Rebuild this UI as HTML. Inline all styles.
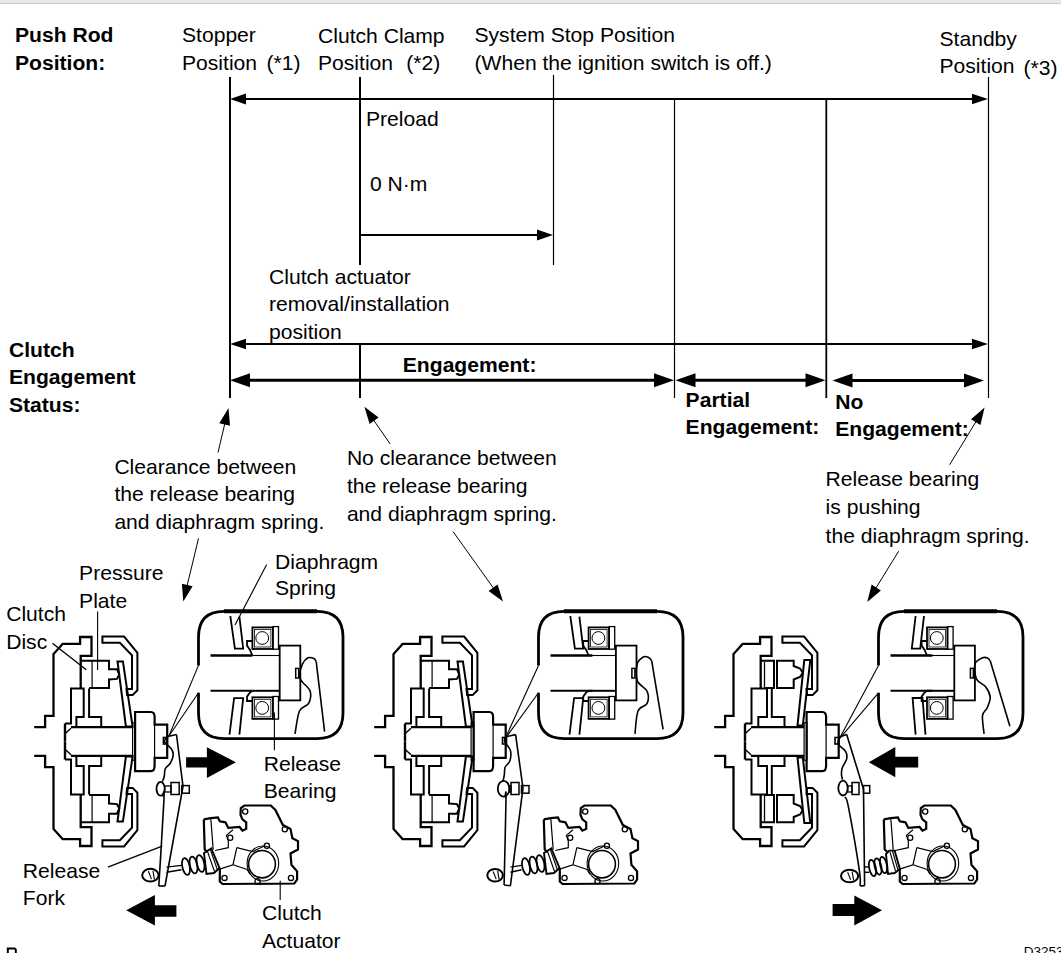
<!DOCTYPE html>
<html><head><meta charset="utf-8"><style>
html,body{margin:0;padding:0;background:#fff;width:1061px;height:953px;overflow:hidden}
svg{display:block;font-family:"Liberation Sans",sans-serif}
</style></head><body>
<svg width="1061" height="953" viewBox="0 0 1061 953">
<rect x="0" y="0" width="1061" height="953" fill="#fff"/>
<rect x="0" y="0" width="1061" height="3" fill="#e8e8e8"/>
<rect x="0" y="3" width="1061" height="1" fill="#cbcbcb"/>
<g fill="#000" stroke="none" transform="translate(-1,0)">
<text x="16" y="42" font-weight="bold" font-size="21.1">Push Rod</text>
<text x="16" y="69.5" font-weight="bold" font-size="21.1">Position:</text>
<text x="183" y="42" font-size="21.1">Stopper</text>
<text x="183" y="69.5" font-size="21.1">Position</text>
<text x="267.5" y="70.3" font-size="21.1">(*1)</text>
<text x="319" y="42.5" font-size="21.1">Clutch Clamp</text>
<text x="319" y="70" font-size="21.1">Position</text>
<text x="407.3" y="70" font-size="21.1">(*2)</text>
<text x="475.5" y="41.7" font-size="21.1">System Stop Position</text>
<text x="475.5" y="69.8" font-size="21.1">(When the ignition switch is off.)</text>
<text x="940.5" y="45.5" font-size="21.1">Standby</text>
<text x="940.5" y="73.4" font-size="21.1">Position</text>
<text x="1024.5" y="74.6" font-size="21.1">(*3)</text>
<text x="367" y="126" font-size="21.1">Preload</text>
<text x="371" y="191.3" font-size="21.1">0 N·m</text>
<text x="270" y="284" font-size="21.1">Clutch actuator</text>
<text x="270" y="311" font-size="21.1">removal/installation</text>
<text x="270" y="339" font-size="21.1">position</text>
<text x="10" y="356.6" font-weight="bold" font-size="21.1">Clutch</text>
<text x="10" y="383.8" font-weight="bold" font-size="21.1">Engagement</text>
<text x="10" y="412.2" font-weight="bold" font-size="21.1">Status:</text>
<text x="403.8" y="371.7" font-weight="bold" font-size="21.1">Engagement:</text>
<text x="686.6" y="406.7" font-weight="bold" font-size="21.1">Partial</text>
<text x="686.6" y="434.2" font-weight="bold" font-size="21.1">Engagement:</text>
<text x="836.2" y="408.5" font-weight="bold" font-size="21.1">No</text>
<text x="836.2" y="436.3" font-weight="bold" font-size="21.1">Engagement:</text>
<text x="115.4" y="473.5" font-size="21.1">Clearance between</text>
<text x="115.4" y="501.1" font-size="21.1">the release bearing</text>
<text x="115.4" y="529" font-size="21.1">and diaphragm spring.</text>
<text x="347.9" y="465.2" font-size="21.1">No clearance between</text>
<text x="347.9" y="492.8" font-size="21.1">the release bearing</text>
<text x="347.9" y="521" font-size="21.1">and diaphragm spring.</text>
<text x="826.6" y="486.1" font-size="21.1">Release bearing</text>
<text x="826.6" y="513.8" font-size="21.1">is pushing</text>
<text x="826.6" y="542.9" font-size="21.1">the diaphragm spring.</text>
<text x="80.1" y="580.2" font-size="21.1">Pressure</text>
<text x="80.1" y="607.9" font-size="21.1">Plate</text>
<text x="7.2" y="621.4" font-size="21.1">Clutch</text>
<text x="7.2" y="649" font-size="21.1">Disc</text>
<text x="276" y="568.5" font-size="21.1">Diaphragm</text>
<text x="276" y="595.1" font-size="21.1">Spring</text>
<text x="264.7" y="770.7" font-size="21.1">Release</text>
<text x="264.7" y="797.5" font-size="21.1">Bearing</text>
<text x="23.8" y="878" font-size="21.1">Release</text>
<text x="23.8" y="905.2" font-size="21.1">Fork</text>
<text x="263" y="920.4" font-size="21.1">Clutch</text>
<text x="263" y="947.9" font-size="21.1">Actuator</text>
<text x="1024.8" y="956.2" font-size="13.5">D3253</text>
</g>
<g stroke="#000" fill="none">
<line x1="230" y1="77" x2="230" y2="398" stroke-width="2"/>
<line x1="360" y1="77" x2="360" y2="265" stroke-width="2"/>
<line x1="360" y1="345" x2="360" y2="398" stroke-width="2"/>
<line x1="553.5" y1="75" x2="553.5" y2="265" stroke-width="1.2"/>
<line x1="674.5" y1="99" x2="674.5" y2="398" stroke-width="1.2"/>
<line x1="826.3" y1="99" x2="826.3" y2="398" stroke-width="1.8"/>
<line x1="988.5" y1="77" x2="988.5" y2="398" stroke-width="1.2"/>
<line x1="244" y1="99" x2="974" y2="99" stroke-width="2"/>
<path d="M230.0,99.0 L246.0,93.6 L246.0,104.4Z" fill="#000" stroke="none"/>
<path d="M988.0,99.0 L972.0,104.2 L972.0,93.8Z" fill="#000" stroke="none"/>
<line x1="360" y1="235" x2="540" y2="235" stroke-width="2"/>
<path d="M553.0,235.0 L537.0,240.6 L537.0,229.4Z" fill="#000" stroke="none"/>
<line x1="244" y1="344" x2="974" y2="344" stroke-width="2"/>
<path d="M230.0,344.0 L246.0,338.8 L246.0,349.2Z" fill="#000" stroke="none"/>
<path d="M988.0,344.0 L972.0,349.2 L972.0,338.8Z" fill="#000" stroke="none"/>
<line x1="246" y1="380.3" x2="658" y2="380.3" stroke-width="3"/>
<path d="M230.0,380.3 L250.0,373.3 L250.0,387.3Z" fill="#000" stroke="none"/>
<path d="M674.0,380.3 L654.0,387.3 L654.0,373.3Z" fill="#000" stroke="none"/>
<line x1="692" y1="380.3" x2="808" y2="380.3" stroke-width="3"/>
<path d="M675.5,380.3 L695.5,373.3 L695.5,387.3Z" fill="#000" stroke="none"/>
<path d="M825.5,380.3 L805.5,387.3 L805.5,373.3Z" fill="#000" stroke="none"/>
<line x1="850" y1="380.6" x2="968" y2="380.6" stroke-width="3"/>
<path d="M832.5,380.6 L852.5,373.6 L852.5,387.6Z" fill="#000" stroke="none"/>
<path d="M984.0,380.6 L964.0,387.6 L964.0,373.6Z" fill="#000" stroke="none"/>
<line x1="218" y1="452.5" x2="225.38341069008146" y2="421.1380841164158" stroke-width="1.0"/><path d="M228.5,407.9 L230.0,425.7 L219.3,423.2Z" fill="#000" stroke="none"/>
<line x1="198.5" y1="538.4" x2="186.48496604936287" y2="588.2782001503424" stroke-width="1.0"/><path d="M183.3,601.5 L181.9,583.7 L192.6,586.3Z" fill="#000" stroke="none"/>
<line x1="390.2" y1="444" x2="372.1506258423777" y2="417.975320982033" stroke-width="1.0"/><path d="M364.4,406.8 L378.6,417.6 L369.6,423.9Z" fill="#000" stroke="none"/>
<line x1="453" y1="531.5" x2="495.0951605654203" y2="590.4332247915884" stroke-width="1.0"/><path d="M503.0,601.5 L488.6,590.9 L497.6,584.5Z" fill="#000" stroke="none"/>
<line x1="949.6" y1="464.8" x2="977.5017182281125" y2="419.20062049577047" stroke-width="1.0"/><path d="M984.6,407.6 L980.4,425.0 L971.0,419.2Z" fill="#000" stroke="none"/>
<line x1="898.7" y1="551.2" x2="874.4505813825642" y2="590.431543495724" stroke-width="1.0"/><path d="M867.3,602.0 L871.6,584.6 L880.9,590.4Z" fill="#000" stroke="none"/>
</g>
<g stroke="#000" fill="none">
<g><path d="M34.2,727.1 L45.1,727.1 L45.1,715.9 L53.5,715.9 L53.5,654.1 L62.6,643.9 L80.1,643.9 L80.1,637 L91.5,637 L91.5,655.9 L80.7,655.9 L80.7,688" stroke-width="2.3" fill="none"/>
<line x1="65" y1="723.5" x2="65" y2="741.5" stroke-width="2.4"/>
<line x1="65" y1="733.7" x2="71" y2="728.3" stroke-width="1.5"/>
<path d="M102.4,636.6 L124.1,636.6 L137.4,652.9 L137.4,690.3 L132.6,695.1 L127.1,695.1 L126.5,689.1 L132,689.1 L132,655.3 L119.9,642.7 L102.4,642.7Z" stroke-width="2" fill="none"/><g transform="translate(0,1483.0) scale(1,-1)"><path d="M34.2,727.1 L45.1,727.1 L45.1,715.9 L53.5,715.9 L53.5,654.1 L62.6,643.9 L80.1,643.9 L80.1,637 L91.5,637 L91.5,655.9 L80.7,655.9 L80.7,688" stroke-width="2.3" fill="none"/>
<line x1="65" y1="723.5" x2="65" y2="741.5" stroke-width="2.4"/>
<line x1="65" y1="733.7" x2="71" y2="728.3" stroke-width="1.5"/>
<path d="M102.4,636.6 L124.1,636.6 L137.4,652.9 L137.4,690.3 L132.6,695.1 L127.1,695.1 L126.5,689.1 L132,689.1 L132,655.3 L119.9,642.7 L102.4,642.7Z" stroke-width="2" fill="none"/></g><path d="M203.8,819.4 L210.8,818.2 L217.9,817.5 L219.8,821.3 L225.4,822.3 L228.3,827.9 L239.6,827 L242.4,830.7 L246.2,828.9 L246.2,822.3 L242.4,819.4 L240.5,814.7 L240.8,808 L244.5,805.5 L270.8,805.5 L275.4,810 L282.9,825.1 L290.5,828.9 L292.4,838.3 L298,841.1 L298,849.6 L290.5,853.4 L291.4,864.7 L297.1,871.3 L297.1,879.7 L294.3,883.5 L222.6,884 L219.8,881.6 L219.8,868.4" stroke-width="2.2" fill="none"/>
<path d="M203.8,819.4 L204.7,849.6 L207.5,852" stroke-width="2.2" fill="none"/>
<path d="M210.8,818.5 L213.2,849.6" stroke-width="1.2" fill="none"/>
<path d="M215.1,850.5 L228.3,847.7 L228.3,841.1 L226.4,835.4 L233,829.8" stroke-width="1.2" fill="none"/>
<path d="M236.8,847.7 L252.8,851.5 L265,845.8" stroke-width="1.2" fill="none"/>
<path d="M236.8,847.7 L233,864.7 L218.9,869.4" stroke-width="1.2" fill="none"/>
<path d="M233,864.7 L247.1,869.4 L250,874.1" stroke-width="1.2" fill="none"/>
<ellipse cx="262.9" cy="863.5" rx="15.8" ry="17.5" stroke-width="1.1"/>
<ellipse cx="262" cy="864.2" rx="13.4" ry="13.7" stroke-width="1.6"/>
<circle cx="245.2" cy="811.5" r="2.6" stroke-width="1.3"/>
<circle cx="230.2" cy="837.8" r="2.6" stroke-width="1.3"/>
<circle cx="224.5" cy="877.9" r="2.6" stroke-width="1.3"/>
<circle cx="257.5" cy="881.2" r="2.6" stroke-width="1.3"/>
<circle cx="266.9" cy="845.8" r="2.6" stroke-width="1.3"/>
<circle cx="284.8" cy="829.3" r="2.6" stroke-width="1.3"/>
<circle cx="291" cy="877.9" r="2.6" stroke-width="1.3"/><path d="M198.5,665.4 L198.5,637 Q198.5,611.3 224,611.3 L317,611.3 Q343,611.3 343,637 L343,713 Q343,738.6 317,738.6 L224,738.6 Q198.5,738.6 198.5,713 L198.5,692.8" stroke-width="2.8"/>
<line x1="224" y1="611.3" x2="317" y2="611.3" stroke-width="4"/>
<line x1="210.5" y1="655.5" x2="252.4" y2="655.5" stroke-width="2.5"/>
<line x1="210.5" y1="690.8" x2="252.4" y2="690.8" stroke-width="2"/></g>
<g transform="translate(340,0)"><path d="M34.2,727.1 L45.1,727.1 L45.1,715.9 L53.5,715.9 L53.5,654.1 L62.6,643.9 L80.1,643.9 L80.1,637 L91.5,637 L91.5,655.9 L80.7,655.9 L80.7,688" stroke-width="2.3" fill="none"/>
<line x1="65" y1="723.5" x2="65" y2="741.5" stroke-width="2.4"/>
<line x1="65" y1="733.7" x2="71" y2="728.3" stroke-width="1.5"/>
<path d="M102.4,636.6 L124.1,636.6 L137.4,652.9 L137.4,690.3 L132.6,695.1 L127.1,695.1 L126.5,689.1 L132,689.1 L132,655.3 L119.9,642.7 L102.4,642.7Z" stroke-width="2" fill="none"/><g transform="translate(0,1483.0) scale(1,-1)"><path d="M34.2,727.1 L45.1,727.1 L45.1,715.9 L53.5,715.9 L53.5,654.1 L62.6,643.9 L80.1,643.9 L80.1,637 L91.5,637 L91.5,655.9 L80.7,655.9 L80.7,688" stroke-width="2.3" fill="none"/>
<line x1="65" y1="723.5" x2="65" y2="741.5" stroke-width="2.4"/>
<line x1="65" y1="733.7" x2="71" y2="728.3" stroke-width="1.5"/>
<path d="M102.4,636.6 L124.1,636.6 L137.4,652.9 L137.4,690.3 L132.6,695.1 L127.1,695.1 L126.5,689.1 L132,689.1 L132,655.3 L119.9,642.7 L102.4,642.7Z" stroke-width="2" fill="none"/></g><path d="M203.8,819.4 L210.8,818.2 L217.9,817.5 L219.8,821.3 L225.4,822.3 L228.3,827.9 L239.6,827 L242.4,830.7 L246.2,828.9 L246.2,822.3 L242.4,819.4 L240.5,814.7 L240.8,808 L244.5,805.5 L270.8,805.5 L275.4,810 L282.9,825.1 L290.5,828.9 L292.4,838.3 L298,841.1 L298,849.6 L290.5,853.4 L291.4,864.7 L297.1,871.3 L297.1,879.7 L294.3,883.5 L222.6,884 L219.8,881.6 L219.8,868.4" stroke-width="2.2" fill="none"/>
<path d="M203.8,819.4 L204.7,849.6 L207.5,852" stroke-width="2.2" fill="none"/>
<path d="M210.8,818.5 L213.2,849.6" stroke-width="1.2" fill="none"/>
<path d="M215.1,850.5 L228.3,847.7 L228.3,841.1 L226.4,835.4 L233,829.8" stroke-width="1.2" fill="none"/>
<path d="M236.8,847.7 L252.8,851.5 L265,845.8" stroke-width="1.2" fill="none"/>
<path d="M236.8,847.7 L233,864.7 L218.9,869.4" stroke-width="1.2" fill="none"/>
<path d="M233,864.7 L247.1,869.4 L250,874.1" stroke-width="1.2" fill="none"/>
<ellipse cx="262.9" cy="863.5" rx="15.8" ry="17.5" stroke-width="1.1"/>
<ellipse cx="262" cy="864.2" rx="13.4" ry="13.7" stroke-width="1.6"/>
<circle cx="245.2" cy="811.5" r="2.6" stroke-width="1.3"/>
<circle cx="230.2" cy="837.8" r="2.6" stroke-width="1.3"/>
<circle cx="224.5" cy="877.9" r="2.6" stroke-width="1.3"/>
<circle cx="257.5" cy="881.2" r="2.6" stroke-width="1.3"/>
<circle cx="266.9" cy="845.8" r="2.6" stroke-width="1.3"/>
<circle cx="284.8" cy="829.3" r="2.6" stroke-width="1.3"/>
<circle cx="291" cy="877.9" r="2.6" stroke-width="1.3"/><path d="M198.5,665.4 L198.5,637 Q198.5,611.3 224,611.3 L317,611.3 Q343,611.3 343,637 L343,713 Q343,738.6 317,738.6 L224,738.6 Q198.5,738.6 198.5,713 L198.5,692.8" stroke-width="2.8"/>
<line x1="224" y1="611.3" x2="317" y2="611.3" stroke-width="4"/>
<line x1="210.5" y1="655.5" x2="252.4" y2="655.5" stroke-width="2.5"/>
<line x1="210.5" y1="690.8" x2="252.4" y2="690.8" stroke-width="2"/></g>
<g transform="translate(680,0)"><path d="M34.2,727.1 L45.1,727.1 L45.1,715.9 L53.5,715.9 L53.5,654.1 L62.6,643.9 L80.1,643.9 L80.1,637 L91.5,637 L91.5,655.9 L80.7,655.9 L80.7,688" stroke-width="2.3" fill="none"/>
<line x1="65" y1="723.5" x2="65" y2="741.5" stroke-width="2.4"/>
<line x1="65" y1="733.7" x2="71" y2="728.3" stroke-width="1.5"/>
<path d="M102.4,636.6 L124.1,636.6 L137.4,652.9 L137.4,690.3 L132.6,695.1 L127.1,695.1 L126.5,689.1 L132,689.1 L132,655.3 L119.9,642.7 L102.4,642.7Z" stroke-width="2" fill="none"/><g transform="translate(0,1483.0) scale(1,-1)"><path d="M34.2,727.1 L45.1,727.1 L45.1,715.9 L53.5,715.9 L53.5,654.1 L62.6,643.9 L80.1,643.9 L80.1,637 L91.5,637 L91.5,655.9 L80.7,655.9 L80.7,688" stroke-width="2.3" fill="none"/>
<line x1="65" y1="723.5" x2="65" y2="741.5" stroke-width="2.4"/>
<line x1="65" y1="733.7" x2="71" y2="728.3" stroke-width="1.5"/>
<path d="M102.4,636.6 L124.1,636.6 L137.4,652.9 L137.4,690.3 L132.6,695.1 L127.1,695.1 L126.5,689.1 L132,689.1 L132,655.3 L119.9,642.7 L102.4,642.7Z" stroke-width="2" fill="none"/></g><path d="M203.8,819.4 L210.8,818.2 L217.9,817.5 L219.8,821.3 L225.4,822.3 L228.3,827.9 L239.6,827 L242.4,830.7 L246.2,828.9 L246.2,822.3 L242.4,819.4 L240.5,814.7 L240.8,808 L244.5,805.5 L270.8,805.5 L275.4,810 L282.9,825.1 L290.5,828.9 L292.4,838.3 L298,841.1 L298,849.6 L290.5,853.4 L291.4,864.7 L297.1,871.3 L297.1,879.7 L294.3,883.5 L222.6,884 L219.8,881.6 L219.8,868.4" stroke-width="2.2" fill="none"/>
<path d="M203.8,819.4 L204.7,849.6 L207.5,852" stroke-width="2.2" fill="none"/>
<path d="M210.8,818.5 L213.2,849.6" stroke-width="1.2" fill="none"/>
<path d="M215.1,850.5 L228.3,847.7 L228.3,841.1 L226.4,835.4 L233,829.8" stroke-width="1.2" fill="none"/>
<path d="M236.8,847.7 L252.8,851.5 L265,845.8" stroke-width="1.2" fill="none"/>
<path d="M236.8,847.7 L233,864.7 L218.9,869.4" stroke-width="1.2" fill="none"/>
<path d="M233,864.7 L247.1,869.4 L250,874.1" stroke-width="1.2" fill="none"/>
<ellipse cx="262.9" cy="863.5" rx="15.8" ry="17.5" stroke-width="1.1"/>
<ellipse cx="262" cy="864.2" rx="13.4" ry="13.7" stroke-width="1.6"/>
<circle cx="245.2" cy="811.5" r="2.6" stroke-width="1.3"/>
<circle cx="230.2" cy="837.8" r="2.6" stroke-width="1.3"/>
<circle cx="224.5" cy="877.9" r="2.6" stroke-width="1.3"/>
<circle cx="257.5" cy="881.2" r="2.6" stroke-width="1.3"/>
<circle cx="266.9" cy="845.8" r="2.6" stroke-width="1.3"/>
<circle cx="284.8" cy="829.3" r="2.6" stroke-width="1.3"/>
<circle cx="291" cy="877.9" r="2.6" stroke-width="1.3"/><path d="M198.5,665.4 L198.5,637 Q198.5,611.3 224,611.3 L317,611.3 Q343,611.3 343,637 L343,713 Q343,738.6 317,738.6 L224,738.6 Q198.5,738.6 198.5,713 L198.5,692.8" stroke-width="2.8"/>
<line x1="224" y1="611.3" x2="317" y2="611.3" stroke-width="4"/>
<line x1="210.5" y1="655.5" x2="252.4" y2="655.5" stroke-width="2.5"/>
<line x1="210.5" y1="690.8" x2="252.4" y2="690.8" stroke-width="2"/></g>
<g transform="translate(0,0)"><line x1="71" y1="727.1" x2="132.6" y2="727.1" stroke-width="2.2"/>
<path d="M65,723.5 L71,723.5 L71,688.5 L83.7,688.5 L83.7,716.9 L76.4,716.9 L76.4,727.1" stroke-width="2" fill="none"/>
<path d="M89.1,688.5 L89.1,716.9 L101.2,716.9 L101.2,727.1" stroke-width="2" fill="none"/>
<path d="M80.7,660.8 L109,660.8 L109,669.2 L116.9,669.2 L119.3,674.6 L116.9,678.9 L109,679.5 L109,687.9 L89.1,687.9" stroke-width="2" fill="none"/>
<line x1="92.1" y1="660.8" x2="92.1" y2="687.9" stroke-width="1.2"/>
<path d="M117.5,661.4 L122.9,661.4 L132.6,726.5 L125.9,726.5Z" stroke-width="2" fill="none"/><g transform="translate(0,1483.0) scale(1,-1)"><line x1="71" y1="727.1" x2="132.6" y2="727.1" stroke-width="2.2"/>
<path d="M65,723.5 L71,723.5 L71,688.5 L83.7,688.5 L83.7,716.9 L76.4,716.9 L76.4,727.1" stroke-width="2" fill="none"/>
<path d="M89.1,688.5 L89.1,716.9 L101.2,716.9 L101.2,727.1" stroke-width="2" fill="none"/>
<path d="M80.7,660.8 L109,660.8 L109,669.2 L116.9,669.2 L119.3,674.6 L116.9,678.9 L109,679.5 L109,687.9 L89.1,687.9" stroke-width="2" fill="none"/>
<line x1="92.1" y1="660.8" x2="92.1" y2="687.9" stroke-width="1.2"/>
<path d="M117.5,661.4 L122.9,661.4 L132.6,726.5 L125.9,726.5Z" stroke-width="2" fill="none"/></g><g transform="translate(0,0)">
<path d="M135.1,712 L150.9,712 Q154.6,712 154.6,717 L154.6,724.6 L167.2,724.6 L167.2,757.9 L154.6,757.9 L154.6,765.5 Q154.6,771.2 150.9,771.2 L135.1,771.2Z" stroke-width="2.2"/>
<line x1="154.6" y1="724.6" x2="154.6" y2="757.9" stroke-width="1.2"/>
<rect x="132.6" y="722.7" width="2.8" height="37.6" stroke-width="1.2"/>
</g><g transform="translate(0,0)"><line x1="252.4" y1="655.5" x2="279.7" y2="655.5" stroke-width="1.1"/>
<line x1="252.4" y1="690.8" x2="279.7" y2="690.8" stroke-width="2"/>
<rect x="279.7" y="645.6" width="20.6" height="54.8" stroke-width="1.8"/>
<rect x="252.4" y="627.4" width="20.5" height="21.6" stroke-width="1.8"/>
<rect x="254.4" y="629.4" width="16.5" height="17.6" stroke-width="0.8"/>
<circle cx="262.2" cy="638.0" r="6.4" stroke-width="1"/>
<rect x="272.9" y="626.6" width="5.6" height="22.6" stroke-width="1.3"/>
<rect x="252.4" y="697.3" width="20.5" height="21.6" stroke-width="1.8"/>
<rect x="254.4" y="699.3" width="16.5" height="17.6" stroke-width="0.8"/>
<circle cx="262.2" cy="707.9" r="6.4" stroke-width="1"/>
<rect x="272.9" y="696.5" width="5.6" height="22.6" stroke-width="1.3"/>
<path d="M252.4,641 L247,641 L247,645.6 L250,650 L252.4,655.5" stroke-width="1.8" fill="none"/>
<path d="M252.4,701 L247,701 L247,696.6 L250,692.5 L252.4,690.8" stroke-width="1.8" fill="none"/></g><path d="M295,733.8 C295.8,730 297.2,716.1 299.5,711 C301.8,705.9 306.8,706.7 308.6,703.4 C310.4,700.1 311.2,694.8 310.2,691.3 C309.2,687.8 304.3,684.6 302.5,682.1 C300.7,679.6 299.5,679 299.5,676 C299.5,673 301.1,666.9 302.5,663.9 C303.9,660.9 306.1,658.7 308,657.8 C309.9,656.9 312.6,657.9 314,658.5 C315.4,659.1 315.8,661.1 316.2,661.6" stroke-width="1.6"/><line x1="316.2" y1="661.6" x2="324.6" y2="731.6" stroke-width="1.6"/><rect x="295.7" y="668.4" width="3" height="9.6" stroke-width="1.5"/><line x1="198.5" y1="665.4" x2="168.8" y2="736.2" stroke-width="1.1"/><line x1="198.5" y1="692.8" x2="168.8" y2="736.2" stroke-width="1.1"/><path d="M230.3,616 L234.9,648.7 L243.2,648.7 L239.4,616.7" stroke-width="1.8" fill="none"/><path d="M229.5,734.6 L234.1,698.1 L243.2,698.1 L239.4,734.6" stroke-width="1.8" fill="none"/></g>
<path d="M167.9,736.5 C167.3,737.3 163.9,739.4 164.5,741.5 C165.1,743.6 170.1,746.7 171.5,749 C172.9,751.3 173.4,753.1 173.2,755.4 C173,757.7 171.7,760.7 170.4,763 C169.1,765.3 166.2,766.8 165.2,769 C164.2,771.2 164.8,773.9 164.3,776 C163.9,778.1 162.8,780.6 162.5,781.5" stroke-width="1.6"/>
<path d="M162.8,796 C163,796.5 164.7,784 164,799 C163.3,814 159.7,871.5 158.8,886" stroke-width="1.6"/>
<path d="M176.5,734.5 L183,786.5 L165,886" stroke-width="1.6" fill="none"/>
<line x1="158.8" y1="886" x2="165" y2="886" stroke-width="1.6"/>
<ellipse cx="160.6" cy="788.8" rx="4.1" ry="6.9" stroke-width="1.8"/>
<rect x="164.7" y="786" width="6.3" height="6" stroke-width="1.3"/>
<rect x="171" y="782.5" width="8.2" height="12" stroke-width="1.5"/>
<rect x="181.7" y="785.6" width="7.6" height="7.6" stroke-width="1.5"/>
<rect x="163.4" y="737.5" width="4" height="6.5" stroke-width="1.6"/>
<line x1="167.9" y1="736.5" x2="176.5" y2="734.5" stroke-width="1.6"/>
<ellipse cx="150.4" cy="875.2" rx="8.2" ry="6.4" stroke-width="2"/>
<line x1="148.45" y1="871.3" x2="151.45" y2="879.1" stroke-width="1.1"/>
<line x1="152.95" y1="870.8" x2="154.45" y2="879.6" stroke-width="1.1"/>
<line x1="166.5" y1="867.1" x2="181.5" y2="865.4" stroke-width="1.4"/>
<line x1="166.5" y1="872.2" x2="181.5" y2="869.7" stroke-width="1.4"/>
<ellipse cx="186" cy="866.5" rx="3.7" ry="8.5" stroke-width="1.8" transform="rotate(-12 186 866.5)"/>
<ellipse cx="193.5" cy="865" rx="3.7" ry="8.5" stroke-width="1.8" transform="rotate(-12 193.5 865)"/>
<ellipse cx="200.5" cy="863.5" rx="3.7" ry="8.5" stroke-width="1.8" transform="rotate(-12 200.5 863.5)"/>
<path d="M204,853 L211.3,848.5 L219.5,868 L214,873 L206.5,874Z" stroke-width="1.9" fill="none"/>
<line x1="207.5" y1="851.5" x2="214.5" y2="871.5" stroke-width="1.1"/>
<line x1="210.5" y1="850" x2="217.5" y2="870" stroke-width="1.1"/>
<g transform="translate(340,0)"><line x1="71" y1="727.1" x2="131.1" y2="727.1" stroke-width="2.2"/>
<path d="M65,723.5 L71,723.5 L71,688.5 L83.7,688.5 L83.7,716.9 L76.4,716.9 L76.4,727.1" stroke-width="2" fill="none"/>
<path d="M89.1,688.5 L89.1,716.9 L101.2,716.9 L101.2,727.1" stroke-width="2" fill="none"/>
<path d="M80.7,660.8 L109,660.8 L109,669.2 L116.9,669.2 L119.3,674.6 L116.9,678.9 L109,679.5 L109,687.9 L89.1,687.9" stroke-width="2" fill="none"/>
<line x1="92.1" y1="660.8" x2="92.1" y2="687.9" stroke-width="1.2"/>
<path d="M117.5,661.4 L122.9,661.4 L132.6,726.5 L125.9,726.5Z" stroke-width="2" fill="none"/><g transform="translate(0,1483.0) scale(1,-1)"><line x1="71" y1="727.1" x2="131.1" y2="727.1" stroke-width="2.2"/>
<path d="M65,723.5 L71,723.5 L71,688.5 L83.7,688.5 L83.7,716.9 L76.4,716.9 L76.4,727.1" stroke-width="2" fill="none"/>
<path d="M89.1,688.5 L89.1,716.9 L101.2,716.9 L101.2,727.1" stroke-width="2" fill="none"/>
<path d="M80.7,660.8 L109,660.8 L109,669.2 L116.9,669.2 L119.3,674.6 L116.9,678.9 L109,679.5 L109,687.9 L89.1,687.9" stroke-width="2" fill="none"/>
<line x1="92.1" y1="660.8" x2="92.1" y2="687.9" stroke-width="1.2"/>
<path d="M117.5,661.4 L122.9,661.4 L132.6,726.5 L125.9,726.5Z" stroke-width="2" fill="none"/></g><g transform="translate(-1.5,0)">
<path d="M135.1,712 L150.9,712 Q154.6,712 154.6,717 L154.6,724.6 L167.2,724.6 L167.2,757.9 L154.6,757.9 L154.6,765.5 Q154.6,771.2 150.9,771.2 L135.1,771.2Z" stroke-width="2.2"/>
<line x1="154.6" y1="724.6" x2="154.6" y2="757.9" stroke-width="1.2"/>
<rect x="132.6" y="722.7" width="2.8" height="37.6" stroke-width="1.2"/>
</g><g transform="translate(-3.8,0)"><line x1="252.4" y1="655.5" x2="279.7" y2="655.5" stroke-width="1.1"/>
<line x1="252.4" y1="690.8" x2="279.7" y2="690.8" stroke-width="2"/>
<rect x="279.7" y="645.6" width="20.6" height="54.8" stroke-width="1.8"/>
<rect x="252.4" y="627.4" width="20.5" height="21.6" stroke-width="1.8"/>
<rect x="254.4" y="629.4" width="16.5" height="17.6" stroke-width="0.8"/>
<circle cx="262.2" cy="638.0" r="6.4" stroke-width="1"/>
<rect x="272.9" y="626.6" width="5.6" height="22.6" stroke-width="1.3"/>
<rect x="252.4" y="697.3" width="20.5" height="21.6" stroke-width="1.8"/>
<rect x="254.4" y="699.3" width="16.5" height="17.6" stroke-width="0.8"/>
<circle cx="262.2" cy="707.9" r="6.4" stroke-width="1"/>
<rect x="272.9" y="696.5" width="5.6" height="22.6" stroke-width="1.3"/>
<path d="M252.4,641 L247,641 L247,645.6 L250,650 L252.4,655.5" stroke-width="1.8" fill="none"/>
<path d="M252.4,701 L247,701 L247,696.6 L250,692.5 L252.4,690.8" stroke-width="1.8" fill="none"/></g><path d="M295,733.8 C295.5,730 296,716.1 298,711 C300,705.9 305.6,706.7 307.1,703.4 C308.6,700.1 308.8,695.1 307.1,691.3 C305.5,687.5 298.9,685.2 297.2,680.6 C295.5,676 296.2,667.8 297.2,663.9 C298.2,660 301.4,658.1 303.3,657 C305.2,655.9 307.1,656.9 308.5,657.5 C309.9,658.1 311.2,660.2 311.7,660.8" stroke-width="1.6"/><line x1="311.7" y1="660.8" x2="323.1" y2="729.3" stroke-width="1.6"/><rect x="291.9" y="668.4" width="3" height="9.6" stroke-width="1.5"/><line x1="198.5" y1="665.4" x2="165.1" y2="738.8" stroke-width="1.1"/><line x1="198.5" y1="692.8" x2="165.1" y2="738.8" stroke-width="1.1"/><path d="M230.3,616 L234.9,648.7 L243.2,648.7 L239.4,616.7" stroke-width="1.8" fill="none"/><path d="M229.5,734.6 L234.1,698.1 L243.2,698.1 L239.4,734.6" stroke-width="1.8" fill="none"/></g>
<path d="M507,736.5 C506.6,737.2 503.9,738.7 504.5,741 C505.1,743.3 509.5,747.1 510.4,750.4 C511.3,753.7 510.7,758.2 509.8,761 C508.9,763.8 506,764.9 505.1,767.2 C504.2,769.5 504.7,772.7 504.3,775 C503.9,777.3 503.2,780 503,781" stroke-width="1.6"/>
<path d="M505.1,796.6 C505.2,797 506.2,784.3 506,799 C505.8,813.7 504.4,870.7 504.1,885" stroke-width="1.6"/>
<path d="M515.6,734.6 L523,788.2 L510.4,885.8" stroke-width="1.6" fill="none"/>
<line x1="504.1" y1="885" x2="510.4" y2="885.8" stroke-width="1.6"/>
<ellipse cx="503.6" cy="788.7" rx="5.8" ry="7.9" stroke-width="1.8"/>
<rect x="509.3" y="786" width="1.7" height="6" stroke-width="1.3"/>
<rect x="511" y="782.5" width="8" height="12" stroke-width="1.5"/>
<rect x="521.5" y="785.6" width="7.5" height="7.6" stroke-width="1.5"/>
<rect x="502.5" y="737.5" width="4" height="6.5" stroke-width="1.6"/>
<line x1="507" y1="736.5" x2="515.6" y2="734.6" stroke-width="1.6"/>
<ellipse cx="495.1" cy="875.3" rx="7.8" ry="6.3" stroke-width="2"/>
<line x1="493.15" y1="871.5" x2="496.15" y2="879.1" stroke-width="1.1"/>
<line x1="497.65" y1="871" x2="499.15" y2="879.6" stroke-width="1.1"/>
<line x1="510.5" y1="867.1" x2="521.5" y2="865.4" stroke-width="1.4"/>
<line x1="510.5" y1="872.2" x2="521.5" y2="869.7" stroke-width="1.4"/>
<ellipse cx="526" cy="866.5" rx="3.7" ry="8.5" stroke-width="1.8" transform="rotate(-12 526 866.5)"/>
<ellipse cx="533.5" cy="865" rx="3.7" ry="8.5" stroke-width="1.8" transform="rotate(-12 533.5 865)"/>
<ellipse cx="540.5" cy="863.5" rx="3.7" ry="8.5" stroke-width="1.8" transform="rotate(-12 540.5 863.5)"/>
<path d="M544,853 L551.3,848.5 L559.5,868 L554,873 L546.5,874Z" stroke-width="1.9" fill="none"/>
<line x1="547.5" y1="851.5" x2="554.5" y2="871.5" stroke-width="1.1"/>
<line x1="550.5" y1="850" x2="557.5" y2="870" stroke-width="1.1"/>
<g transform="translate(680,0)"><line x1="71" y1="727.1" x2="124.1" y2="727.1" stroke-width="2.2"/>
<path d="M65,723.5 L71.5,723.5 L71.5,688.5 L87,688.5 L87,716.9 L78.3,716.9 L78.3,727.1" stroke-width="2" fill="none"/>
<path d="M91.8,688.5 L91.8,716.9 L104.5,716.9 L104.5,727.1" stroke-width="2" fill="none"/>
<path d="M80.7,660.8 L94,660.8 L94,687.9 L84,687.9" stroke-width="2" fill="none"/>
<line x1="84.5" y1="662" x2="84.5" y2="687.9" stroke-width="1.3"/>
<path d="M97,660.8 L113.7,660.8 L113.7,666 L120,668.5 L122.8,672.8 L120,677 L113.7,679.5 L113.7,687.9 L97,687.9Z" stroke-width="2" fill="none"/>
<path d="M124.3,660 L130.3,660 L122.8,725.6 L117.5,725.6Z" stroke-width="2" fill="none"/><g transform="translate(0,1483.0) scale(1,-1)"><line x1="71" y1="727.1" x2="124.1" y2="727.1" stroke-width="2.2"/>
<path d="M65,723.5 L71.5,723.5 L71.5,688.5 L87,688.5 L87,716.9 L78.3,716.9 L78.3,727.1" stroke-width="2" fill="none"/>
<path d="M91.8,688.5 L91.8,716.9 L104.5,716.9 L104.5,727.1" stroke-width="2" fill="none"/>
<path d="M80.7,660.8 L94,660.8 L94,687.9 L84,687.9" stroke-width="2" fill="none"/>
<line x1="84.5" y1="662" x2="84.5" y2="687.9" stroke-width="1.3"/>
<path d="M97,660.8 L113.7,660.8 L113.7,666 L120,668.5 L122.8,672.8 L120,677 L113.7,679.5 L113.7,687.9 L97,687.9Z" stroke-width="2" fill="none"/>
<path d="M124.3,660 L130.3,660 L122.8,725.6 L117.5,725.6Z" stroke-width="2" fill="none"/></g><g transform="translate(-8.5,0)">
<path d="M135.1,712 L150.9,712 Q154.6,712 154.6,717 L154.6,724.6 L167.2,724.6 L167.2,757.9 L154.6,757.9 L154.6,765.5 Q154.6,771.2 150.9,771.2 L135.1,771.2Z" stroke-width="2.2"/>
<line x1="154.6" y1="724.6" x2="154.6" y2="757.9" stroke-width="1.2"/>
<rect x="132.6" y="722.7" width="2.8" height="37.6" stroke-width="1.2"/>
</g><g transform="translate(-5.4,0)"><line x1="252.4" y1="655.5" x2="279.7" y2="655.5" stroke-width="1.1"/>
<line x1="252.4" y1="690.8" x2="279.7" y2="690.8" stroke-width="2"/>
<rect x="279.7" y="645.6" width="20.6" height="54.8" stroke-width="1.8"/>
<rect x="252.4" y="627.4" width="20.5" height="21.6" stroke-width="1.8"/>
<rect x="254.4" y="629.4" width="16.5" height="17.6" stroke-width="0.8"/>
<circle cx="262.2" cy="638.0" r="6.4" stroke-width="1"/>
<rect x="272.9" y="626.6" width="5.6" height="22.6" stroke-width="1.3"/>
<rect x="252.4" y="697.3" width="20.5" height="21.6" stroke-width="1.8"/>
<rect x="254.4" y="699.3" width="16.5" height="17.6" stroke-width="0.8"/>
<circle cx="262.2" cy="707.9" r="6.4" stroke-width="1"/>
<rect x="272.9" y="696.5" width="5.6" height="22.6" stroke-width="1.3"/>
<path d="M252.4,641 L247,641 L247,645.6 L250,650 L252.4,655.5" stroke-width="1.8" fill="none"/>
<path d="M252.4,701 L247,701 L247,696.6 L250,692.5 L252.4,690.8" stroke-width="1.8" fill="none"/></g><path d="M304.1,733.8 C303.8,730.8 302,719.9 302.5,715.6 C303,711.3 305.8,711 307.1,708 C308.4,705 310.4,700.8 310.2,697.3 C309.9,693.8 307.9,689.7 305.6,686.7 C303.3,683.7 298.3,682.9 296.5,679.1 C294.7,675.3 294,667.5 295,663.9 C296,660.3 300.4,658.8 302.5,657.8 C304.6,656.8 306.2,657.5 307.5,658 C308.8,658.5 309.8,660.3 310.2,660.8" stroke-width="1.6"/><line x1="310.2" y1="660.8" x2="329.9" y2="726.2" stroke-width="1.6"/><rect x="290.4" y="668.4" width="3" height="9.6" stroke-width="1.5"/><line x1="198.5" y1="665.4" x2="159.3" y2="738.8" stroke-width="1.1"/><line x1="198.5" y1="692.8" x2="159.3" y2="738.8" stroke-width="1.1"/><path d="M235.6,616 L231.8,648.7 L240.2,648.7 L244,616" stroke-width="1.8" fill="none"/><path d="M235.6,734.6 L232.6,698 L242.5,698 L245.5,734.6" stroke-width="1.8" fill="none"/></g>
<path d="M839.5,737 C839.3,738.2 837.3,741.7 838.3,744.1 C839.3,746.5 844.2,749 845.6,751.4 C847,753.8 847.2,756.2 846.7,758.8 C846.2,761.4 843.4,764.8 842.5,767.2 C841.6,769.7 841.4,771.4 841.4,773.5 C841.4,775.6 842.3,778.7 842.5,779.7" stroke-width="1.6"/>
<path d="M845,796.9 C845.6,798.6 846.1,795 848.5,807.3 C850.9,819.6 857.5,857.7 859.4,870.8 C861.3,883.9 859.9,883.3 860,885.8" stroke-width="1.6"/>
<path d="M846.7,734.6 L863.5,789.2 L864.6,885.8" stroke-width="1.6" fill="none"/>
<line x1="860" y1="885.8" x2="864.6" y2="885.8" stroke-width="1.6"/>
<ellipse cx="843" cy="788.1" rx="4.7" ry="7.4" stroke-width="1.8"/>
<rect x="847.7" y="786" width="4.3" height="6" stroke-width="1.3"/>
<rect x="852" y="782.5" width="7" height="12" stroke-width="1.5"/>
<rect x="863.5" y="785.6" width="6.2" height="7.6" stroke-width="1.5"/>
<rect x="835" y="737.5" width="4" height="6.5" stroke-width="1.6"/>
<line x1="839.5" y1="737" x2="846.7" y2="734.6" stroke-width="1.6"/>
<ellipse cx="849.6" cy="876" rx="8.6" ry="6.3" stroke-width="2"/>
<line x1="847.65" y1="872.1" x2="850.65" y2="879.8" stroke-width="1.1"/>
<line x1="852.15" y1="871.6" x2="853.65" y2="880.3" stroke-width="1.1"/>
<line x1="864.6" y1="867" x2="869.5" y2="867" stroke-width="1.4"/>
<line x1="864.6" y1="872.3" x2="869.5" y2="872.3" stroke-width="1.4"/>
<ellipse cx="872.5" cy="868" rx="3.3" ry="8.3" stroke-width="1.8" transform="rotate(-12 872.5 868)"/>
<ellipse cx="878" cy="866.5" rx="3.3" ry="8.3" stroke-width="1.8" transform="rotate(-12 878 866.5)"/>
<ellipse cx="883.5" cy="865" rx="3.3" ry="8.3" stroke-width="1.8" transform="rotate(-12 883.5 865)"/>
<path d="M886,854 L889.3,850.6 L894.6,850.6 L899.9,869 L894.6,873 L888,874Z" stroke-width="1.9" fill="none"/>
<line x1="890" y1="852" x2="895.5" y2="871" stroke-width="1.1"/>
<line x1="892.5" y1="851" x2="898" y2="870" stroke-width="1.1"/>
<line x1="97.6" y1="611.6" x2="97.6" y2="670" stroke-width="1.1"/>
<line x1="52.4" y1="643.3" x2="86.3" y2="669.7" stroke-width="1.4"/>
<line x1="107.9" y1="867.1" x2="162.2" y2="846.1" stroke-width="1.4"/>
<line x1="280.2" y1="880.7" x2="280.2" y2="900" stroke-width="1.1"/>
<line x1="274.4" y1="712.5" x2="274.4" y2="750.2" stroke-width="1.1"/>
<line x1="266.7" y1="564.6" x2="235" y2="625" stroke-width="1.1"/>
</g>
<path d="M186.1,757.3 L206.9,757.3 L206.9,747.2 L235.9,762.3 L206.9,778.1 L206.9,767.4 L186.1,767.4Z" fill="#000"/>
<path d="M176.4,905.3 L154.9,905.3 L154.9,895.1 L126.2,910.2 L154.9,925.6 L154.9,916.8 L176.4,916.8Z" fill="#000"/>
<path d="M918.2,756.7 L895.3,756.7 L895.3,747 L868.8,762.3 L895.3,777.2 L895.3,767.6 L918.2,767.6Z" fill="#000"/>
<path d="M832.6,903.9 L854.3,903.9 L854.3,895.5 L882,910.3 L854.3,925.6 L854.3,916 L832.6,916Z" fill="#000"/>
<path d="M7.8,953 L7.8,948.4 L14.6,948.4 L15.8,949.6 L15.8,953" stroke="#000" stroke-width="2" fill="none"/>
</svg>
</body></html>
